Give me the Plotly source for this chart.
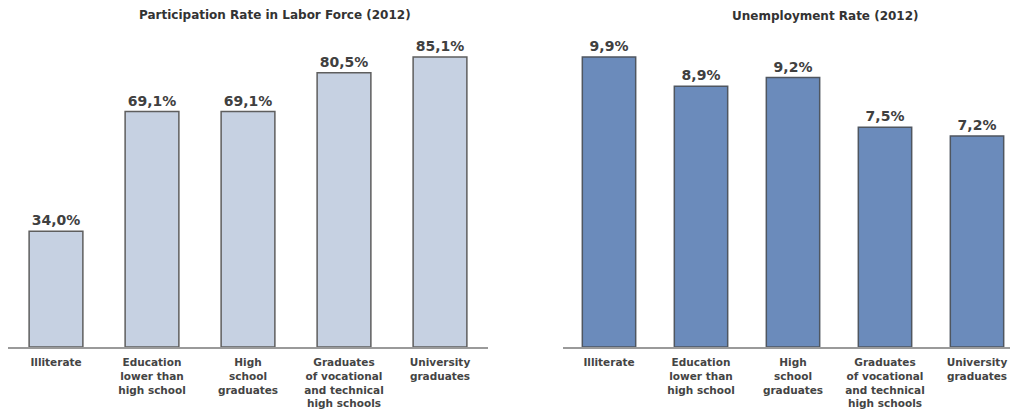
import plotly.graph_objects as go

# Page has an 8px body margin; the figure is drawn from (8, 8).
OFF = 8
W, H = 1018 - OFF, 409 - OFF

categories = [
    "Illiterate",
    "Education<br>lower than<br>high school",
    "High<br>school<br>graduates",
    "Graduates<br>of vocational<br>and technical<br>high schools",
    "University<br>graduates",
]
participation = [34.0, 69.1, 69.1, 80.5, 85.1]
unemployment = [9.9, 8.9, 9.2, 7.5, 7.2]
title_left = "Participation Rate in Labor Force (2012)"
title_right = "Unemployment Rate (2012)"


def fmt(v):
    return f"{v:.1f}".replace(".", ",") + "%"


def px_x(p):
    return (p - OFF) / W


def px_y(p):
    return (H - (p - OFF)) / H


fig = go.Figure()
label_font = dict(family="DejaVu Sans", size=14, color="#404040", weight="bold")

fig.add_trace(go.Bar(
    x=categories, y=participation, xaxis="x", yaxis="y",
    text=[fmt(v) for v in participation], textposition="outside",
    textfont=label_font, cliponaxis=False,
    marker=dict(color="#c6d1e2", line=dict(color="#5e5e5e", width=1.5)),
    width=0.56, showlegend=False, hoverinfo="skip",
))
fig.add_trace(go.Bar(
    x=categories, y=unemployment, xaxis="x2", yaxis="y2",
    text=[fmt(v) for v in unemployment], textposition="outside",
    textfont=label_font, cliponaxis=False,
    marker=dict(color="#6b8bbb", line=dict(color="#4f5660", width=1.5)),
    width=0.58, showlegend=False, hoverinfo="skip",
))

tick_font = dict(family="DejaVu Sans", size=10.5, color="#444444", weight="bold")
ydom = [px_y(347), px_y(40)]

xcommon = dict(type="category", showgrid=False, zeroline=False, showline=True,
               linecolor="#9a9a9a", linewidth=1.5, ticks="", tickfont=tick_font,
               tickangle=0, fixedrange=True, ticklabelstandoff=5)
ycommon = dict(visible=False, showgrid=False, zeroline=False, fixedrange=True)

fig.update_layout(
    width=W, height=H,
    margin=dict(l=0, r=0, t=0, b=0),
    paper_bgcolor="white", plot_bgcolor="white",
    xaxis=dict(domain=[px_x(8), px_x(488)], range=[-0.5, 4.5], anchor="y", **xcommon),
    yaxis=dict(domain=ydom, range=[0, 307 / 3.408], anchor="x", **ycommon),
    xaxis2=dict(domain=[px_x(563), 1.0], range=[-0.5, -0.5 + (1018 - 563) / 92.0],
                anchor="y2", **xcommon),
    yaxis2=dict(domain=ydom, range=[0, 307 / 29.29], anchor="x2", **ycommon),
    annotations=[
        dict(text=title_left, x=px_x(275), y=px_y(15), xref="paper", yref="paper",
             showarrow=False, xanchor="center", yanchor="middle",
             font=dict(family="DejaVu Sans", size=12, color="#333333", weight="bold")),
        dict(text=title_right, x=px_x(825), y=px_y(16), xref="paper", yref="paper",
             showarrow=False, xanchor="center", yanchor="middle",
             font=dict(family="DejaVu Sans", size=12, color="#333333", weight="bold")),
    ],
)

fig.write_html("out.html")
